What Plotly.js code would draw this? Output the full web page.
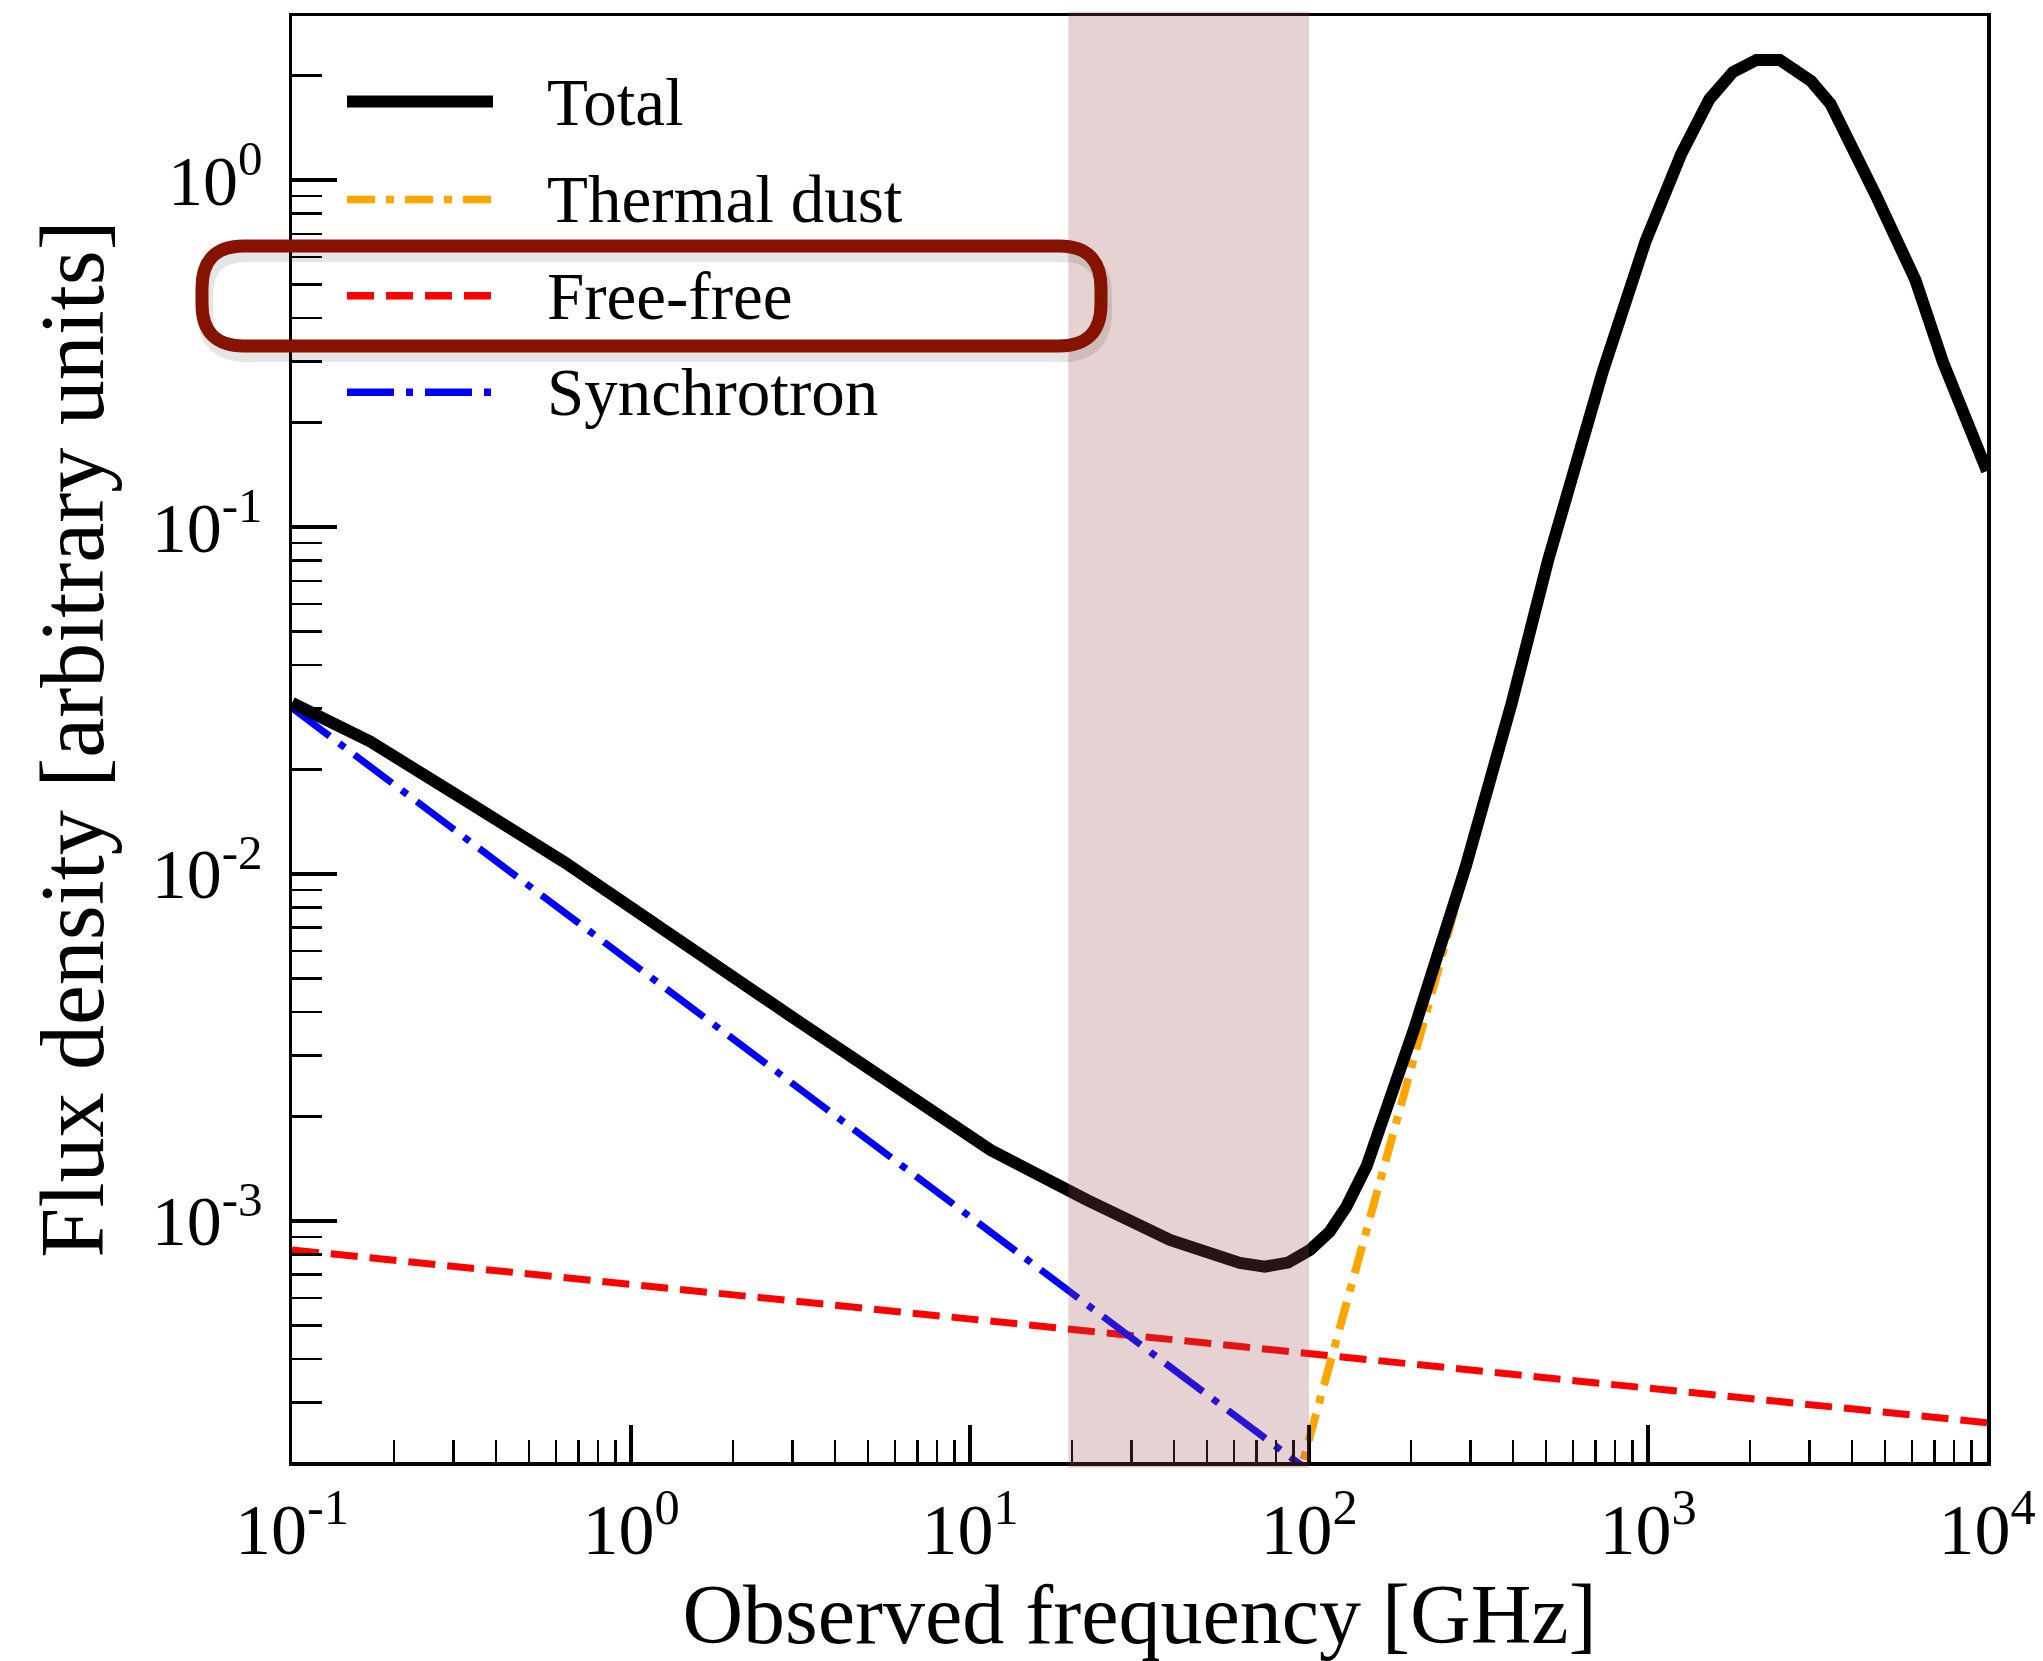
<!DOCTYPE html>
<html>
<head>
<meta charset="utf-8">
<script src="https://cdn.plot.ly/plotly-3.0.1.min.js"></script>
<style>
  html, body { margin: 0; padding: 0; background: #ffffff; }
  #chart { width: 2043px; height: 1661px; }
</style>
</head>
<body>
<div id="chart"></div>
<script>
// ---- Data ----
const seriesNames = ["Total", "Thermal dust", "Free-free", "Synchrotron"];

const freqTotal = [0.1, 0.17, 0.321, 0.637, 2.95, 11.5, 22.1, 38.9, 62.5, 74.1, 86.7, 100.7, 115, 129, 148, 173, 204, 290, 396, 507, 735, 984, 1253, 1517, 1782, 2089, 2449, 3027, 3454, 4710, 6150, 7413, 10000];
const fluxTotal = [0.0311, 0.0241, 0.0164, 0.0108, 0.0039, 0.0016, 0.00115, 0.000881, 0.000757, 0.000738, 0.000758, 0.000825, 0.00093, 0.0011, 0.00144, 0.00223, 0.00356, 0.0105, 0.031, 0.08, 0.28, 0.667, 1.19, 1.71, 2.05, 2.22, 2.22, 1.93, 1.66, 0.90, 0.515, 0.299, 0.145];

const freqDust = [90, 100, 290, 396, 507, 735, 984, 1253, 1517, 1782, 2089, 2449, 3027, 3454, 4710, 6150, 7413, 10000];
const fluxDust = [0.00016, 0.000234, 0.0103, 0.0307, 0.0797, 0.2797, 0.6667, 1.19, 1.71, 2.05, 2.22, 2.22, 1.93, 1.66, 0.90, 0.515, 0.299, 0.145];

const freqFreeFree = [0.1, 10000];
const fluxFreeFree = [0.000825, 0.000262];

const freqSync = [0.1, 1, 10, 100];
const fluxSync = [0.0301, 0.00557, 0.00103, 0.00019];

const bandLow = 19.5;   // shaded band, GHz
const bandHigh = 100;

const xTickVals = [0.1, 1, 10, 100, 1000, 10000];
const xTickText = ["10<sup>-1</sup>", "10<sup>0</sup>", "10<sup>1</sup>", "10<sup>2</sup>", "10<sup>3</sup>", "10<sup>4</sup>"];
const yTickVals = [0.001, 0.01, 0.1, 1];
const yTickText = ["10<sup>-3</sup>", "10<sup>-2</sup>", "10<sup>-1</sup>", "10<sup>0</sup>"];

const xTitle = "Observed frequency [GHz]";
const yTitle = "Flux density [arbitrary units]";

// ---- Styles ----
const FONT = "Liberation Serif, Times New Roman, serif";
const styles = {
  "Total":        {color: "#000000", width: 12, dash: "solid"},
  "Thermal dust": {color: "#FFA500", width: 8, dash: "28px,11px,8px,11px"},
  "Free-free":    {color: "#FF0000", width: 7, dash: "27px,12px"},
  "Synchrotron":  {color: "#0000FF", width: 7, dash: "47px,12px,7px,12px"}
};

function tr(name, x, y) {
  const s = styles[name];
  return {
    type: "scatter", mode: "lines", name: name, x: x, y: y,
    line: {color: s.color, width: s.width, dash: s.dash, shape: "linear"},
    showlegend: false, hoverinfo: "skip"
  };
}

const data = [
  tr("Free-free", freqFreeFree, fluxFreeFree),
  tr("Synchrotron", freqSync, fluxSync),
  tr("Thermal dust", freqDust, fluxDust),
  tr("Total", freqTotal, fluxTotal)
];

// ---- Manual legend (paper coords) ----
const plotL = 292, plotR = 1987, plotT = 16, plotB = 1462;
const W = plotR - plotL, H = plotB - plotT;
const px = v => (v - plotL) / W;
const py = v => (plotB - v) / H;

const legendRowsY = [101.6, 199.4, 295.8, 392.2];
const shapes = [];
const annotations = [];

// shaded band
shapes.push({
  type: "rect", xref: "x", yref: "paper",
  x0: bandLow, x1: bandHigh, y0: -0.004, y1: 1.003,
  fillcolor: "rgba(155,75,75,0.25)", line: {width: 0}, layer: "above"
});

seriesNames.forEach((n, i) => {
  const s = styles[n];
  shapes.push({
    type: "line", xref: "paper", yref: "paper",
    x0: px(347), x1: px(493), y0: py(legendRowsY[i]), y1: py(legendRowsY[i]),
    line: {color: s.color, width: n === "Total" ? 12 : 7.5, dash: s.dash}, layer: "above"
  });
  annotations.push({
    xref: "paper", yref: "paper", x: px(545), y: py(legendRowsY[i]),
    xanchor: "left", yanchor: "middle", showarrow: false, text: n,
    font: {family: FONT, size: 67, color: "#000000"}
  });
});

// rounded highlight box around "Free-free"
function roundRect(x0p, y0p, x1p, y1p, r) {
  const x0 = px(x0p), x1 = px(x1p), yt = py(y0p), yb = py(y1p);
  const rx = r / W, ry = r / H;
  return `M ${x0 + rx},${yt} L ${x1 - rx},${yt} Q ${x1},${yt} ${x1},${yt - ry} ` +
         `L ${x1},${yb + ry} Q ${x1},${yb} ${x1 - rx},${yb} L ${x0 + rx},${yb} ` +
         `Q ${x0},${yb} ${x0},${yb + ry} L ${x0},${yt - ry} Q ${x0},${yt} ${x0 + rx},${yt} Z`;
}
shapes.push({
  type: "path", xref: "paper", yref: "paper",
  path: roundRect(205, 254, 1104, 354, 42),
  line: {color: "rgba(0,0,0,0.10)", width: 16}, layer: "above"
});
shapes.push({
  type: "path", xref: "paper", yref: "paper",
  path: roundRect(202, 246, 1101, 346, 42),
  line: {color: "#861200", width: 13}, layer: "above"
});

const layout = {
  width: 2043, height: 1661,
  margin: {l: plotL, r: 2043 - plotR, t: plotT, b: 1661 - plotB, pad: 0},
  paper_bgcolor: "#ffffff", plot_bgcolor: "#ffffff",
  showlegend: false,
  font: {family: FONT, color: "#000000"},
  xaxis: {
    type: "log", range: [-1, 4],
    showline: true, linecolor: "#000000", linewidth: 3.5, mirror: true,
    showgrid: false, zeroline: false,
    tickmode: "array", tickvals: xTickVals, ticktext: xTickText,
    ticks: "inside", ticklen: 37, tickwidth: 3.5, tickcolor: "#000000",
    ticklabelstandoff: 2,
    tickfont: {family: FONT, size: 72, color: "#000000"},
    minor: {ticks: "inside", ticklen: 22, tickwidth: 2.5, tickcolor: "#000000", dtick: "D1", showgrid: false},
    title: {text: xTitle, font: {family: FONT, size: 84, color: "#000000"}, standoff: 43},
    automargin: false
  },
  yaxis: {
    type: "log", range: [-3.695, 0.473],
    showline: true, linecolor: "#000000", linewidth: 3.5, mirror: true,
    showgrid: false, zeroline: false,
    tickmode: "array", tickvals: yTickVals, ticktext: yTickText,
    ticks: "inside", ticklen: 45, tickwidth: 3.5, tickcolor: "#000000",
    ticklabelstandoff: 12,
    tickfont: {family: FONT, size: 70, color: "#000000"},
    minor: {ticks: "inside", ticklen: 30, tickwidth: 2.5, tickcolor: "#000000", dtick: "D1", showgrid: false},
    title: {text: yTitle, font: {family: FONT, size: 90, color: "#000000"}, standoff: 19},
    automargin: false
  },
  shapes: shapes,
  annotations: annotations
};

Plotly.newPlot("chart", data, layout, {displayModeBar: false, staticPlot: true});
</script>
</body>
</html>
